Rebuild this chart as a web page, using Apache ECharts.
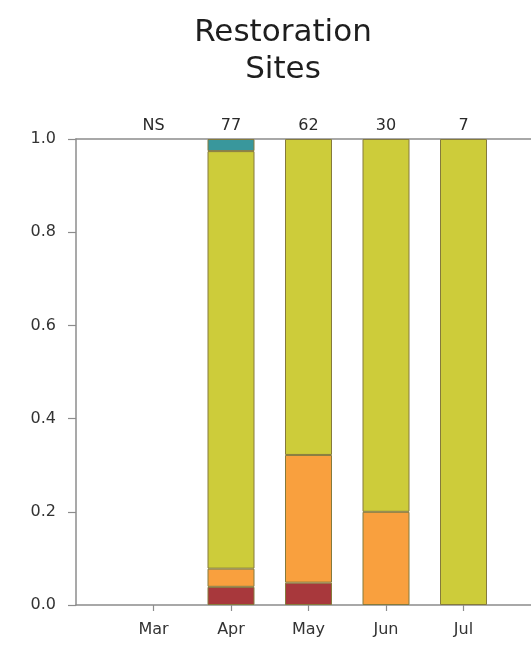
<!DOCTYPE html>
<html>
<head>
<meta charset="utf-8">
<script src="https://cdn.jsdelivr.net/npm/echarts@6/dist/echarts.min.js"></script>
<style>
  html, body { margin: 0; padding: 0; background: #fff; }
  #chart { width: 531px; height: 650px; }
</style>
</head>
<body>
<div id="chart"></div>
<script>
// Monthly proportions of each class at restoration sites
const months = ['Mar', 'Apr', 'May', 'Jun', 'Jul'];
const sampleSizes = ['NS', '77', '62', '30', '7'];

const redShare    = [null, 0.039, 0.048, null, null];
const orangeShare = [null, 0.039, 0.274, 0.200, null];
const yellowShare = [null, 0.896, 0.678, 0.800, 1.000];
const tealShare   = [null, 0.026, null, null, null];

const yTicks = [0, 0.2, 0.4, 0.6, 0.8, 1.0];

// pad with an empty slot on each side so the axis runs from the y-axis line out past the last month
const pad = arr => [null].concat(arr, [null]);
const cats = [''].concat(months, ['']);
const topLabels = [''].concat(sampleSizes, ['']);

const FONT = 'DejaVu Sans';
const AXIS = '#8c8c8c';
const EDGE = '#857a3c';

function seg(name, data, color) {
  return {
    name, type: 'bar', stack: 'share', data: pad(data),
    barWidth: 47,
    itemStyle: { color, borderColor: EDGE, borderWidth: 1 },
    emphasis: { disabled: true }
  };
}

const chart = echarts.init(document.getElementById('chart'), null, { renderer: 'canvas' });
chart.setOption({
  animation: false,
  backgroundColor: '#fff',
  title: {
    text: 'Restoration\nSites',
    left: 278, top: 9, textAlign: 'center',
    textStyle: { fontFamily: FONT, fontSize: 31, fontWeight: 'normal', color: '#1e1e1e', lineHeight: 37 }
  },
  grid: { left: 76, right: -10, top: 139, bottom: 45, containLabel: false, outerBoundsMode: 'none' },
  xAxis: [
    {
      type: 'category', data: cats, boundaryGap: false, position: 'bottom',
      axisLine: { lineStyle: { color: AXIS, width: 1.5 } },
      axisTick: { show: true, length: 6, interval: (i) => i > 0 && i < cats.length - 1, lineStyle: { color: AXIS, width: 1.2 } },
      axisLabel: { interval: 0, margin: 17, fontFamily: FONT, fontSize: 16, color: '#333' },
      splitLine: { show: false }
    },
    {
      type: 'category', data: topLabels, boundaryGap: false, position: 'top',
      axisLine: { lineStyle: { color: AXIS, width: 1.5 } },
      axisTick: { show: false },
      axisLabel: { interval: 0, margin: 5, fontFamily: FONT, fontSize: 16, color: '#2a2a2a' },
      splitLine: { show: false }
    }
  ],
  yAxis: {
    type: 'value', min: 0, max: 1, interval: 0.2,
    axisLine: { show: true, lineStyle: { color: AXIS, width: 1.5 } },
    axisTick: { show: true, length: 8, lineStyle: { color: AXIS, width: 1.2 } },
    axisLabel: {
      margin: 20, fontFamily: FONT, fontSize: 16, color: '#333',
      formatter: v => yTicks.some(t => Math.abs(t - v) < 1e-9) ? v.toFixed(1) : ''
    },
    splitLine: { show: false }
  },
  series: [
    seg('red', redShare, '#a8383c'),
    seg('orange', orangeShare, '#f9a03e'),
    seg('yellow', yellowShare, '#cdcc3a'),
    seg('teal', tealShare, '#39979c')
  ]
});
</script>
</body>
</html>
